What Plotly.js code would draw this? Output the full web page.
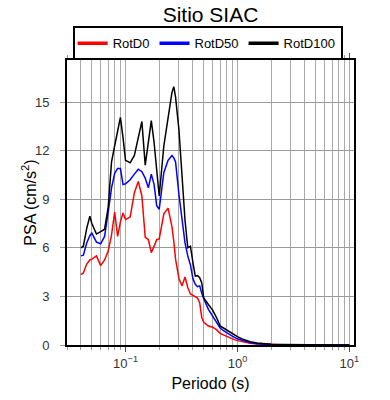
<!DOCTYPE html>
<html>
<head>
<meta charset="utf-8">
<script src="https://cdn.plot.ly/plotly-3.0.1.min.js"></script>
<style>html,body{margin:0;padding:0;background:#fff}#chart{width:390px;height:400px}</style>
</head>
<body>
<div id="chart"></div>
<script>
var periods = [0.04,0.042,0.045,0.048,0.05,0.055,0.06,0.065,0.07,0.075,0.08,0.085,0.09,0.095,
  0.1,0.11,0.12,0.13,0.14,0.15,0.16,0.17,0.18,0.19,0.2,0.22,0.24,0.26,0.27,0.28,0.3,0.32,0.34,
  0.36,0.38,0.4,0.42,0.44,0.46,0.48,0.5,0.55,0.6,0.65,0.7,0.75,0.8,0.9,1.0,1.1,1.2,1.3,1.5,1.7,
  2.0,2.5,3.0,4.0,5.0,7.5,10.0];

var rotD0 = [4.35,4.45,5.0,5.25,5.3,5.5,4.9,5.25,5.8,6.8,8.2,6.7,7.6,8.15,
  7.75,7.9,9.4,10.1,9.2,6.65,6.5,5.7,6.1,6.5,6.55,8.1,8.45,7.3,6.4,5.3,4.1,3.65,4.2,
  3.55,3.15,3.05,3.0,2.9,2.6,1.7,1.4,1.17,1.1,0.95,0.72,0.62,0.52,0.38,0.27,0.2,0.14,0.1,0.06,0.04,
  0.025,0.015,0.01,0.006,0.004,0.002,0.001];

var rotD50 = [5.5,5.55,6.3,6.75,6.9,6.35,6.25,6.7,8.2,9.7,10.6,10.9,10.9,9.9,
  9.95,10.2,10.55,10.85,10.7,10.3,9.7,10.55,9.9,8.6,8.38,10.65,11.4,11.7,11.55,11.3,9.3,7.8,6.3,
  5.5,4.95,4.1,3.75,3.6,3.65,3.2,2.85,2.2,1.8,1.45,1.05,0.88,0.75,0.55,0.38,0.28,0.2,0.14,0.08,0.05,
  0.03,0.02,0.014,0.009,0.006,0.003,0.002];

var rotD100 = [6.0,6.1,7.2,7.95,7.5,6.85,7.0,7.15,8.5,11.3,12.3,13.2,14.05,12.8,
  11.4,11.25,11.7,12.8,13.8,11.1,12.6,13.85,12.5,10.6,9.2,12.3,14.0,15.6,15.95,15.3,13.3,10.4,7.7,
  6.0,6.1,5.1,4.25,4.28,4.15,3.83,2.9,2.5,2.15,1.7,1.18,1.05,0.92,0.72,0.52,0.38,0.28,0.2,0.12,0.08,
  0.05,0.03,0.02,0.015,0.01,0.005,0.003];

var seriesNames = ['RotD0','RotD50','RotD100'];
var seriesColors = ['#ff0000','#0000ff','#000000'];
var yTicks = [0,3,6,9,12,15];
var xMajorTicks = [0.1,1,10];
var xMajorLabels = ['10<sup>\u22121</sup>','10<sup>0</sup>','10<sup>1</sup>'];
var xMinorTicks = [0.03,0.04,0.05,0.06,0.07,0.08,0.09,0.2,0.3,0.4,0.5,0.6,0.7,0.8,0.9,2,3,4,5,6,7,8,9];
var yTitle = 'PSA (cm/s<sup>2</sup>)';

var allSeries = [rotD0, rotD50, rotD100];
var traces = allSeries.map(function(v,i){
  return {x: periods, y: v, type:'scatter', mode:'lines', name: seriesNames[i],
          legendgroup: seriesNames[i], showlegend:false,
          line:{color: seriesColors[i], width:1.5}};
});
// legend entries with thicker sample lines (no data points)
seriesNames.forEach(function(n,i){
  traces.push({x:[null], y:[null], type:'scatter', mode:'lines', name:n, legendgroup:n,
               showlegend:true, line:{color: seriesColors[i], width:3.5}, hoverinfo:'skip'});
});

var F = 'Liberation Sans, Arial, Helvetica, sans-serif';
var layout = {
  width:390, height:400,
  margin:{l:67, r:36, t:58, b:55},
  paper_bgcolor:'#fff', plot_bgcolor:'#fff',
  font:{family:F, color:'#000'},
  title:{text:'Sitio SIAC', font:{family:F, size:21, color:'#000'},
         x:0.5, xref:'paper', xanchor:'center', y:0.963, yref:'container', yanchor:'middle'},
  showlegend:true,
  legend:{orientation:'h', x:0.49, xref:'paper', xanchor:'center', y:0.934, yref:'container', yanchor:'top',
          bordercolor:'#000', borderwidth:2, bgcolor:'#fff', font:{family:F, size:13, color:'#000'},
          itemwidth:30, tracegroupgap:0},
  xaxis:{type:'log', range:[Math.log10(0.03), Math.log10(11)],
         tickmode:'array', tickvals:xMajorTicks, ticktext:xMajorLabels,
         ticks:'outside', ticklen:5, tickwidth:1, tickcolor:'#555',
         tickfont:{family:F, size:13, color:'#333'},
         showline:true, linecolor:'#000', linewidth:2, mirror:'allticks',
         showgrid:true, gridcolor:'#aaa', gridwidth:1, zeroline:false,
         minor:{tickmode:'array', tickvals:xMinorTicks, ticks:'outside', ticklen:3, tickcolor:'#999',
                showgrid:true, gridcolor:'#aaa', gridwidth:1},
         title:{text:'Periodo (s)', font:{family:F, size:16, color:'#000'}, standoff:8}},
  yaxis:{range:[0,17.57], tickmode:'array', tickvals:yTicks,
         ticks:'outside', ticklen:5, tickwidth:1, tickcolor:'#999', ticklabelstandoff:8,
         tickfont:{family:F, size:13, color:'#333'},
         showline:true, linecolor:'#000', linewidth:2, mirror:true,
         showgrid:true, gridcolor:'#999', gridwidth:1, zeroline:false},
  annotations:[{text:yTitle, textangle:-90, xref:'paper', yref:'paper',
                x:(29-67)/287, y:0.5, xanchor:'center', yanchor:'middle', showarrow:false,
                font:{family:F, size:16, color:'#000'}}]
};

Plotly.newPlot('chart', traces, layout, {displayModeBar:false, staticPlot:true});
</script>
</body>
</html>
